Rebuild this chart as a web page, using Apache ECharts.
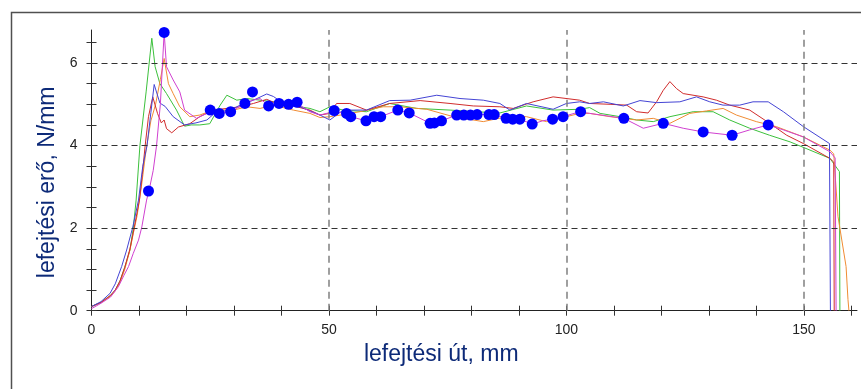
<!DOCTYPE html>
<html>
<head>
<meta charset="utf-8">
<script src="https://cdn.jsdelivr.net/npm/echarts@6/dist/echarts.min.js"></script>
<style>html,body{margin:0;padding:0;background:#fff}#c{width:861px;height:389px}</style>
</head>
<body>
<div id="c"></div>
<script>
const xTicks = [0,10,20,30,40,50,60,70,80,90,100,110,120,130,140,150,160];
const xLabels = [0,50,100,150];
const yTicks = [0,0.5,1,1.5,2,2.5,3,3.5,4,4.5,5,5.5,6,6.5];
const yLabels = [0,2,4,6];
const xGrid = [50,100,150];
const yGrid = [2,4,6];

const green = [[0,0.1],[2,0.2],[4,0.37],[5,0.5],[6,0.72],[7,1.05],[8.1,1.47],[8.8,2.0],[9.4,2.68],[10.2,4.0],[11.5,5.3],[12.7,6.6],[13.4,5.91],[14.4,5.5],[15.8,5.26],[17.9,4.86],[19.6,4.47],[21,4.5],[22.8,4.5],[24.9,4.53],[27.1,4.98],[28.5,5.22],[30.6,5.1],[32.7,5.14],[35.5,5.1],[38.3,5.06],[41.8,4.98],[46,4.9],[48.1,4.82],[50.2,4.94],[53,4.86],[57.9,4.82],[62.8,5.02],[68.5,4.9],[75.5,4.86],[81.1,4.82],[86,4.79],[91.6,4.96],[97.2,4.86],[102.8,4.88],[104.9,4.92],[107.1,4.78],[111.3,4.7],[114.8,4.62],[118.3,4.58],[121.8,4.7],[126.7,4.82],[130.9,4.82],[134.4,4.62],[138.6,4.42],[142.8,4.25],[147.1,4.09],[151.3,3.89],[155.5,3.69],[157.5,3.37],[157.6,0]];
const orange = [[0,0.1],[2,0.2],[4,0.35],[5,0.48],[6,0.68],[7,1.0],[8.1,1.47],[8.8,1.87],[9.6,2.3],[10.5,3.0],[11.5,3.9],[12.5,4.6],[13.5,5.0],[14.5,5.6],[15.3,6.11],[16.2,5.5],[17.2,5.26],[18.6,4.94],[20.7,4.7],[22.8,4.74],[25.6,4.86],[29.9,4.86],[32.7,4.94],[35.5,4.9],[38.3,4.98],[42.5,4.86],[46,4.78],[48.1,4.68],[50.2,4.7],[53,4.75],[56.5,4.82],[61.4,4.94],[64.9,4.94],[70.6,4.88],[76.2,4.7],[82.5,4.58],[87.4,4.7],[91.6,4.7],[95.8,4.58],[100,4.7],[102.8,4.78],[104.9,4.78],[109.2,4.7],[114.8,4.62],[118.3,4.66],[121.8,4.54],[126,4.78],[129.5,4.84],[133,4.9],[135.8,4.74],[140,4.58],[144.2,4.46],[149.9,4.21],[155.5,3.89],[156.3,3.8],[157.2,2.28],[158.9,1.07],[159.3,0.27],[159.5,0]];
const red = [[0,0.1],[2,0.2],[4,0.37],[5,0.5],[6,0.72],[7,1.05],[8.1,1.5],[8.8,1.9],[10.1,2.68],[10.7,3.3],[11.3,4.0],[12.0,4.7],[12.9,5.18],[13.9,4.78],[14.7,4.55],[15.3,4.62],[15.8,4.41],[16.9,4.31],[18.3,4.45],[20.7,4.53],[22.8,4.7],[25.6,4.86],[28.5,4.9],[31.3,4.94],[34.1,5.02],[36.9,5.12],[39,5.02],[42.5,4.96],[46,4.86],[48.1,4.74],[50.2,4.78],[51.6,5.02],[54.4,5.02],[57.9,4.86],[62.8,5.02],[69.2,5.09],[75.5,5.02],[80.4,4.96],[86,4.94],[88.8,4.9],[93,5.06],[97.2,5.18],[102.8,5.1],[104.9,5.02],[109.2,5.0],[112.7,4.98],[114.8,4.82],[117.2,4.79],[119,5.06],[120.4,5.34],[121.8,5.55],[123.2,5.38],[124.6,5.26],[128.8,5.18],[131.6,5.1],[134.4,4.98],[138.6,4.86],[142.8,4.54],[146.4,4.25],[149.9,4.05],[155.5,3.69],[156.3,3.6],[156.4,0]];
const blue = [[0,0.1],[2,0.22],[3.9,0.42],[5,0.65],[6.35,1.07],[7.4,1.47],[8.7,2.03],[9.9,2.68],[10.8,3.5],[11.7,4.0],[12.5,4.8],[13.2,5.48],[14.4,5.03],[15.5,4.95],[17.2,4.7],[19.6,4.5],[22,4.55],[24.3,4.62],[25.7,4.76],[29.9,4.9],[31.3,4.98],[34.1,5.1],[36.9,5.25],[38.3,5.19],[40.4,5.02],[43.9,4.94],[48.1,4.74],[50.2,4.62],[53,4.86],[57.9,4.86],[62.8,5.09],[67.1,5.1],[72.7,5.22],[77.6,5.14],[82.5,5.1],[86,5.02],[88.1,4.86],[91.6,5.02],[97.2,4.88],[100,5.02],[102.8,5.06],[104.9,5.02],[107.8,5.06],[112,4.96],[115.5,5.09],[119,5.04],[123.9,5.06],[127.4,5.18],[130.2,5.06],[133,4.98],[136.5,4.98],[139.3,5.06],[142.5,5.06],[145.7,4.82],[149.9,4.46],[155.4,4.05],[155.6,0]];
const magenta = [[0,0.05],[2,0.18],[4,0.33],[5.65,0.58],[6.8,0.85],[7.8,1.07],[8.8,1.39],[9.9,1.71],[10.6,2.03],[11.6,2.68],[12.1,2.9],[13,3.4],[13.7,4.0],[14.5,5.0],[15.3,6.74],[15.8,5.91],[17.2,5.59],[18.6,5.3],[19.6,4.86],[22.1,4.66],[24.3,4.78],[25,4.86],[26.9,4.78],[29.3,4.82],[32.3,5.02],[33.9,5.1],[35.5,5.14],[37.3,4.96],[39.5,5.02],[41.5,5.0],[43.3,5.02],[46,4.82],[48.1,4.74],[50.9,4.82],[53.7,4.78],[54.6,4.7],[57.8,4.6],[59.5,4.7],[60.9,4.7],[64.5,4.86],[66.9,4.79],[69.9,4.62],[71.3,4.54],[72.2,4.55],[73.7,4.6],[76.9,4.74],[78.4,4.74],[79.8,4.74],[81.2,4.75],[83.7,4.75],[84.8,4.75],[87.3,4.66],[88.7,4.64],[90.2,4.64],[92.8,4.52],[95,4.6],[97.1,4.64],[99.3,4.7],[102.8,4.82],[104.9,4.78],[108.5,4.72],[112.1,4.66],[116.2,4.42],[120.4,4.54],[124.6,4.42],[128.8,4.33],[134.9,4.25],[138.6,4.38],[142.5,4.5],[145.7,4.38],[149.9,4.21],[155.5,3.85],[156.6,3.7],[156.8,0]];
const dots = [[12.0,2.9],[15.3,6.74],[25,4.86],[26.9,4.78],[29.3,4.82],[32.3,5.02],[33.9,5.3],[37.3,4.96],[39.5,5.02],[41.5,5.0],[43.3,5.05],[51.1,4.85],[53.7,4.78],[54.6,4.7],[57.8,4.6],[59.5,4.7],[60.9,4.7],[64.5,4.86],[66.9,4.79],[71.3,4.54],[72.2,4.55],[73.7,4.6],[76.9,4.74],[78.4,4.74],[79.8,4.74],[81.2,4.75],[83.7,4.75],[84.8,4.75],[87.3,4.66],[88.7,4.64],[90.2,4.64],[92.8,4.52],[97.1,4.64],[99.3,4.7],[103,4.82],[112.1,4.66],[120.4,4.54],[128.8,4.33],[134.9,4.25],[142.5,4.5]];

const FONT = 'Liberation Sans, Arial, sans-serif';
const XMIN = 0, XMAX = 161.2, YMIN = 0, YMAX = 6.8;

function lineSeries(name, data, color) {
  return { name, type: 'line', data, showSymbol: false, symbol: 'none', smooth: false,
    lineStyle: { color, width: 1 }, itemStyle: { color }, animation: false, silent: true, z: 3 };
}

const chart = echarts.init(document.getElementById('c'), null, { renderer: 'canvas' });
const baseX = { type: 'value', min: XMIN, max: XMAX, position: 'bottom', splitLine: { show: false } };
const baseY = { type: 'value', min: YMIN, max: YMAX, position: 'left', splitLine: { show: false } };

const gridMarks = {
  silent: true, symbol: 'none', animation: false, label: { show: false },
  data: [
    ...xGrid.map(v => ({ xAxis: v, lineStyle: { color: '#808080', width: 1.5, type: [7, 5] } })),
    ...yGrid.map(v => ({ yAxis: v, lineStyle: { color: '#333', width: 1, type: [6, 4] } }))
  ]
};

const series = [
  lineSeries('green', green, '#3cc03c'),
  lineSeries('orange', orange, '#f08c34'),
  lineSeries('red', red, '#d02c2c'),
  lineSeries('blue', blue, '#4444d4'),
  lineSeries('magenta', magenta, '#d040d0'),
  { name: 'pontok', type: 'scatter', data: dots, symbol: 'circle', symbolSize: 11,
    itemStyle: { color: '#0000ff', opacity: 1 }, animation: false, silent: true, z: 5 }
];
series[0].markLine = gridMarks;
series[0].z = 2;

chart.setOption({
  backgroundColor: '#fff',
  animation: false,
  grid: { left: 91.5, right: 4, top: 30, bottom: 78.3, containLabel: false },
  graphic: [{ type: 'rect', left: 9, top: 10, shape: { width: 900, height: 420 },
    style: { fill: 'none', stroke: '#505050', lineWidth: 1.5 }, silent: true, z: -1 }],
  xAxis: [
    Object.assign({}, baseX, {
      axisLine: { show: true, lineStyle: { color: '#222', width: 1 } },
      axisTick: { show: true, length: 5, customValues: xTicks, lineStyle: { color: '#333' } },
      axisLabel: { show: true, customValues: xLabels, margin: 12, fontSize: 14, color: '#222', fontFamily: FONT },
      name: 'lefejtési út, mm', nameLocation: 'middle', nameGap: 32,
      nameTextStyle: { fontSize: 23, color: '#0d2a78', fontFamily: FONT, padding: [0, 66, 0, 0] }
    }),
    Object.assign({}, baseX, {
      axisLine: { show: false },
      axisTick: { show: true, inside: true, length: 5, customValues: xTicks, lineStyle: { color: '#333' } },
      axisLabel: { show: false }
    })
  ],
  yAxis: [
    Object.assign({}, baseY, {
      axisLine: { show: true, lineStyle: { color: '#222', width: 1 } },
      axisTick: { show: true, length: 5, customValues: yTicks, lineStyle: { color: '#333' } },
      axisLabel: { show: true, customValues: yLabels, margin: 14, fontSize: 14, color: '#222', fontFamily: FONT },
      name: 'lefejtési erő, N/mm', nameLocation: 'middle', nameGap: 29,
      nameTextStyle: { fontSize: 23, color: '#0d2a78', fontFamily: FONT, padding: [0, 24, 0, 0] }
    }),
    Object.assign({}, baseY, {
      axisLine: { show: false },
      axisTick: { show: true, inside: true, length: 5, customValues: yTicks, lineStyle: { color: '#333' } },
      axisLabel: { show: false }
    })
  ],
  series
});
</script>
</body>
</html>
